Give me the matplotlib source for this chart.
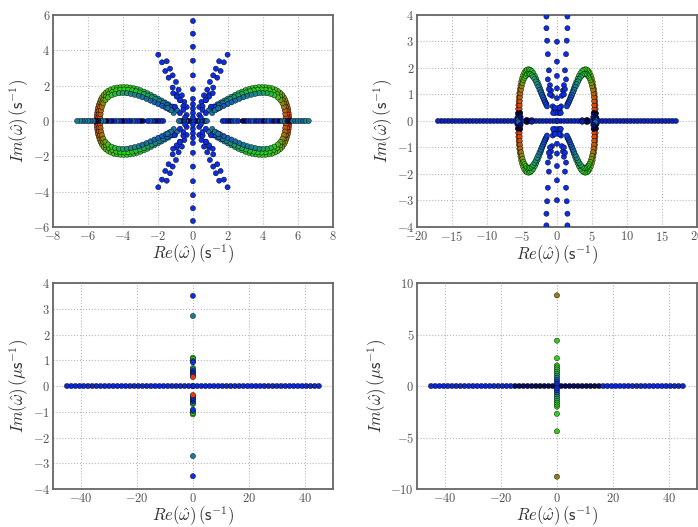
import numpy as np
import matplotlib
matplotlib.use("Agg")
import matplotlib.pyplot as plt
from matplotlib.colors import LinearSegmentedColormap
from matplotlib.ticker import FuncFormatter

plt.rcParams['mathtext.fontset'] = 'cm'
plt.rcParams['font.family'] = ['DejaVu Serif']

# ---------------- data (first quadrant, mirrored by symmetry) ----------------
# Top-left panel: loops (three branches), x>0, y>0
tl_a_x = [5.50, 5.50, 5.49, 5.47, 5.45, 5.42, 5.38, 5.33, 5.27, 5.19, 5.10, 4.98, 4.85, 4.70, 4.52, 4.33, 4.14, 3.95, 3.76, 3.57, 3.38, 3.19, 3.00, 2.80, 2.60, 2.40, 2.20, 2.00, 1.80, 1.60, 1.40, 1.20, 1.00]
tl_a_y = [0.00, 0.15, 0.30, 0.45, 0.60, 0.75, 0.90, 1.05, 1.20, 1.35, 1.48, 1.60, 1.70, 1.78, 1.85, 1.89, 1.91, 1.92, 1.91, 1.89, 1.85, 1.80, 1.74, 1.66, 1.57, 1.47, 1.37, 1.27, 1.16, 1.05, 0.94, 0.82, 0.70]
tl_a_c = [0.00, 0.00, 0.02, 0.04, 0.06, 0.08, 0.10, 0.13, 0.16, 0.19, 0.22, 0.25, 0.27, 0.29, 0.30, 0.31, 0.32, 0.33, 0.34, 0.35, 0.36, 0.38, 0.40, 0.43, 0.47, 0.51, 0.55, 0.59, 0.63, 0.67, 0.71, 0.75, 0.80]

tl_b_x = [5.40, 5.40, 5.38, 5.35, 5.30, 5.22, 5.12, 4.98, 4.80, 4.60, 4.38, 4.15, 3.92, 3.70, 3.47, 3.25, 3.03, 2.80, 2.58, 2.36, 2.14, 1.92, 1.70, 1.48, 1.26]
tl_b_y = [0.00, 0.20, 0.40, 0.60, 0.80, 1.00, 1.20, 1.38, 1.53, 1.65, 1.73, 1.77, 1.78, 1.77, 1.73, 1.68, 1.61, 1.53, 1.44, 1.34, 1.24, 1.13, 1.02, 0.90, 0.78]
tl_b_c = [0.02, 0.03, 0.05, 0.07, 0.10, 0.14, 0.18, 0.22, 0.26, 0.28, 0.30, 0.31, 0.32, 0.34, 0.36, 0.39, 0.43, 0.47, 0.51, 0.55, 0.59, 0.63, 0.67, 0.71, 0.75]

tl_c_x = [5.30, 5.30, 5.28, 5.25, 5.20, 5.12, 5.00, 4.85, 4.65, 4.45, 4.22, 4.00, 3.78, 3.55, 3.33, 3.10, 2.88, 2.65, 2.42, 2.20, 1.98, 1.76, 1.55, 1.35]
tl_c_y = [0.00, 0.20, 0.40, 0.60, 0.80, 1.00, 1.18, 1.33, 1.45, 1.53, 1.57, 1.58, 1.57, 1.53, 1.48, 1.42, 1.34, 1.25, 1.15, 1.05, 0.95, 0.85, 0.75, 0.65]
tl_c_c = [0.05, 0.06, 0.08, 0.10, 0.13, 0.17, 0.22, 0.28, 0.35, 0.42, 0.48, 0.53, 0.57, 0.60, 0.62, 0.64, 0.66, 0.67, 0.68, 0.70, 0.71, 0.72, 0.74, 0.76]

# Top-left: blue rays (x>0, y>0)
tl_ray_x = [1.98, 1.50, 1.77, 1.31, 1.58, 1.16, 1.39, 0.97, 1.16, 0.82, 0.63, 0.93, 0.49, 0.74, 0.36, 0.55, 1.13, 0.93, 0.74, 1.03, 0.55, 0.74, 0.36, 0.45]
tl_ray_y = [3.75, 3.38, 3.32, 2.96, 2.83, 2.58, 2.45, 2.21, 1.89, 1.77, 1.45, 1.49, 1.08, 1.17, 0.79, 0.83, 1.57, 1.38, 1.19, 0.81, 0.62, 0.44, 0.34, 0.20]
tl_teal_x = [0.90, 1.10, 1.25, 1.45]
tl_teal_y = [0.60, 0.45, 0.60, 0.72]
# Top-left: vertical column at Re=0 (y>0)
tl_col_y = [5.66, 4.94, 4.20, 3.41, 2.58, 1.80, 1.25, 0.95, 0.70, 0.45, 0.20]
# Top-left: real axis points (x>=0)
tl_h_x = [0.00, 0.10, 0.20, 0.30, 0.40, 0.50, 0.60, 0.70, 0.80,
          1.70, 1.85, 2.00, 2.15, 2.30, 2.45, 2.60, 2.85, 3.00, 3.15, 3.30, 3.45, 3.60, 3.75, 3.90, 4.05, 4.20,
          4.35, 4.50, 4.65, 4.80, 4.95, 5.10, 5.25, 5.40, 5.55, 5.70, 5.85, 6.00, 6.15, 6.30, 6.45, 6.62]
tl_h_c = [0.85, 0.62, 0.90, 1.00, 0.70, 0.85, 0.62, 0.95, 0.70,
          0.85, 0.85, 0.90, 0.95, 0.85, 0.70, 0.85, 0.95, 1.00, 0.85, 0.85, 0.70, 0.90, 0.85, 0.85, 1.00, 0.85,
          0.70, 0.85, 0.95, 0.85, 1.00, 0.70, 0.62, 0.95, 1.00, 0.65, 0.70, 0.62, 0.65, 0.70, 0.62, 0.64]

# Top-right panel: arches (x>0, y>0)
tr_a_x = [5.53, 5.53, 5.53, 5.52, 5.50, 5.47, 5.43, 5.37, 5.30, 5.21, 5.10, 4.97, 4.82, 4.65, 4.46, 4.25, 4.03, 3.80, 3.58, 3.36, 3.15, 2.95, 2.76, 2.58, 2.41, 2.25, 2.10, 1.95, 1.80, 1.65, 1.50]
tr_a_y = [0.00, 0.15, 0.30, 0.45, 0.60, 0.75, 0.90, 1.05, 1.20, 1.34, 1.48, 1.61, 1.73, 1.83, 1.90, 1.94, 1.95, 1.93, 1.88, 1.80, 1.70, 1.59, 1.47, 1.35, 1.23, 1.12, 1.01, 0.91, 0.81, 0.72, 0.64]
tr_a_c = [0.00, 0.00, 0.01, 0.02, 0.03, 0.05, 0.07, 0.10, 0.13, 0.16, 0.19, 0.22, 0.25, 0.28, 0.30, 0.32, 0.34, 0.36, 0.38, 0.40, 0.43, 0.46, 0.50, 0.54, 0.58, 0.62, 0.66, 0.70, 0.73, 0.76, 0.79]
tr_b_x = [5.35, 5.35, 5.34, 5.32, 5.28, 5.22, 5.14, 5.04, 4.92, 4.78, 4.62, 4.44, 4.24, 4.03, 3.82, 3.61, 3.41, 3.21, 3.02, 2.84, 2.66, 2.49, 2.33, 2.17, 2.02, 1.87, 1.72, 1.57, 1.42]
tr_b_y = [0.30, 0.45, 0.60, 0.75, 0.90, 1.04, 1.18, 1.31, 1.43, 1.54, 1.63, 1.70, 1.75, 1.77, 1.76, 1.72, 1.66, 1.58, 1.49, 1.39, 1.29, 1.18, 1.08, 0.98, 0.89, 0.80, 0.71, 0.63, 0.55]
tr_b_c = [0.02, 0.03, 0.04, 0.06, 0.08, 0.10, 0.13, 0.16, 0.20, 0.24, 0.28, 0.31, 0.34, 0.37, 0.40, 0.44, 0.48, 0.52, 0.56, 0.60, 0.63, 0.66, 0.69, 0.72, 0.74, 0.76, 0.78, 0.80, 0.82]
tr_blue_x = [1.50, 1.50, 1.40, 1.30, 1.15, 1.30, 1.00, 0.85, 1.15, 0.70, 1.00, 0.60, 0.40, 0.25, 0.55, 0.30]
tr_blue_y = [3.94, 3.50, 3.03, 2.52, 1.91, 1.57, 1.35, 1.15, 1.20, 0.95, 1.00, 0.55, 0.40, 0.30, 0.30, 0.50]
tr_col_y = [2.99, 2.24, 1.70, 1.23, 0.86]
tr_dark_x = [5.25, 5.40, 5.55, 5.65, 5.35, 5.50, 5.20, 4.30, 3.60]
tr_dark_y = [0.30, 0.22, 0.28, 0.12, 0.10, 0.05, 0.15, 0.04, 0.03]
tr_dark_c = [1.00, 0.65, 1.00, 0.95, 1.00, 0.70, 0.95, 1.00, 0.90]
tr_h_x = [0.0, 0.5, 1.0, 1.5, 2.0, 2.5, 3.0, 3.5, 4.0, 4.5, 5.0, 5.5, 6.0, 6.5, 7.0, 7.5, 8.0, 8.5,
          9.0, 9.5, 10.0, 10.5, 11.0, 11.5, 12.0, 12.5, 13.0, 13.5, 14.0, 14.5, 15.0, 15.5, 16.0, 16.5, 17.0]

# Bottom panels: real axis (x>=0)
b_h_x = [0.0, 1.5, 3.0, 4.5, 6.0, 7.5, 9.0, 10.5, 12.0, 13.5, 15.0, 16.5, 18.0, 19.5, 21.0, 22.5,
         24.0, 25.5, 27.0, 28.5, 30.0, 31.5, 33.0, 34.5, 36.0, 37.5, 39.0, 40.5, 42.0, 43.5, 45.0]
br_h_c = [0.98, 0.98, 0.98, 0.98, 0.98, 0.98, 0.98, 0.98, 0.98, 0.98, 0.98, 0.87, 0.87, 0.87, 0.87, 0.87,
          0.87, 0.87, 0.87, 0.87, 0.87, 0.87, 0.87, 0.87, 0.87, 0.87, 0.87, 0.87, 0.87, 0.87, 0.87]
# Bottom-left imaginary column (y>0)
bl_v_y = [3.50, 2.72, 1.10, 1.05, 0.97, 0.92, 0.70, 0.65, 0.58, 0.52, 0.46, 0.40, 0.35]
bl_v_c = [0.85, 0.65, 0.30, 0.32, 0.70, 0.85, 0.33, 0.62, 0.85, 0.85, 0.85, 0.75, 0.00]
# Bottom-right imaginary column (y>0)
br_v_y = [8.80, 4.40, 2.70, 2.00, 1.80, 1.60, 1.40, 1.20, 1.00, 0.80, 0.60, 0.40, 0.20]
br_v_c = [0.15, 0.30, 0.32, 0.30, 0.32, 0.35, 0.40, 0.45, 0.50, 0.60, 0.70, 0.80, 0.87]

# ---------------- styling ----------------
cmap = LinearSegmentedColormap.from_list('eig', [
    (0.00, (0.92, 0.22, 0.05)),
    (0.32, (0.18, 0.82, 0.10)),
    (0.62, (0.10, 0.52, 0.55)),
    (0.85, (0.05, 0.18, 0.88)),
    (1.00, (0.02, 0.02, 0.22)),
])

MS = 14
EW = 0.3


def sc(ax, x, y, c, mx=True, my=True):
    x = np.asarray(x, float)
    y = np.asarray(y, float)
    c = np.broadcast_to(np.asarray(c, float), x.shape)
    xs, ys, cs = [x], [y], [c]
    if mx:
        xs.append(-x); ys.append(y); cs.append(c)
    if my:
        xs.append(x); ys.append(-y); cs.append(c)
    if mx and my:
        xs.append(-x); ys.append(-y); cs.append(c)
    ax.scatter(np.concatenate(xs), np.concatenate(ys), c=np.concatenate(cs),
               cmap=cmap, vmin=0, vmax=1, s=MS, edgecolors='k',
               linewidths=EW, zorder=3)


fmt = FuncFormatter(lambda v, p: r'$%g$' % v)


def style(ax, xlim, ylim, xt, yt, unit):
    ax.set_xlim(*xlim)
    ax.set_ylim(*ylim)
    ax.set_xticks(xt)
    ax.set_yticks(yt)
    ax.xaxis.set_major_formatter(fmt)
    ax.yaxis.set_major_formatter(fmt)
    ax.grid(True, linestyle=':', color='#b8b8b8', linewidth=0.8)
    ax.set_axisbelow(True)
    for sp in ax.spines.values():
        sp.set_color('#666666')
        sp.set_linewidth(1.3)
    ax.tick_params(length=0, labelsize=9, labelcolor='#555555', pad=2)
    ax.set_xlabel(r'$Re(\hat{\omega})\,(\mathsf{s}^{-1})$', fontsize=12,
                  color='#333333', labelpad=0)
    ax.set_ylabel(r'$Im(\hat{\omega})\,(' + unit + r'\mathsf{s}^{-1})$', fontsize=12,
                  color='#333333', labelpad=1)


fig = plt.figure(figsize=(6.98, 5.27), dpi=100)
W = 0.401
ax1 = fig.add_axes([0.0759, 0.5693, W, 0.4023])
ax2 = fig.add_axes([0.5974, 0.5693, W, 0.4023])
ax3 = fig.add_axes([0.0759, 0.0720, W, 0.3910])
ax4 = fig.add_axes([0.5974, 0.0720, W, 0.3910])

# top-left
sc(ax1, tl_a_x, tl_a_y, tl_a_c)
sc(ax1, tl_b_x, tl_b_y, tl_b_c)
sc(ax1, tl_c_x, tl_c_y, tl_c_c)
sc(ax1, tl_teal_x, tl_teal_y, 0.66)
sc(ax1, tl_h_x, np.zeros(len(tl_h_x)), tl_h_c, mx=True, my=False)
sc(ax1, tl_ray_x, tl_ray_y, 0.85)
sc(ax1, np.zeros(len(tl_col_y)), tl_col_y, 0.85, mx=False, my=True)
style(ax1, (-8, 8), (-6, 6), range(-8, 9, 2), range(-6, 7, 2), '')

# top-right
sc(ax2, tr_a_x, tr_a_y, tr_a_c)
sc(ax2, tr_b_x, tr_b_y, tr_b_c)
sc(ax2, tr_h_x, np.zeros(len(tr_h_x)), 0.88, mx=True, my=False)
sc(ax2, tr_dark_x, tr_dark_y, tr_dark_c)
sc(ax2, tr_blue_x, tr_blue_y, 0.85)
sc(ax2, np.zeros(len(tr_col_y)), tr_col_y, 0.85, mx=False, my=True)
style(ax2, (-20, 20), (-4, 4), range(-20, 21, 5), range(-4, 5, 1), '')

# bottom-left
sc(ax3, b_h_x, np.zeros(len(b_h_x)), 0.87, mx=True, my=False)
sc(ax3, np.zeros(len(bl_v_y)), bl_v_y, bl_v_c, mx=False, my=True)
style(ax3, (-50, 50), (-4, 4), [-40, -20, 0, 20, 40], range(-4, 5, 1), r'\mu')

# bottom-right
sc(ax4, b_h_x, np.zeros(len(b_h_x)), br_h_c, mx=True, my=False)
sc(ax4, np.zeros(len(br_v_y)), br_v_y, br_v_c, mx=False, my=True)
style(ax4, (-50, 50), (-10, 10), [-40, -20, 0, 20, 40], [-10, -5, 0, 5, 10], r'\mu')

fig.savefig('out.png', dpi=100)
